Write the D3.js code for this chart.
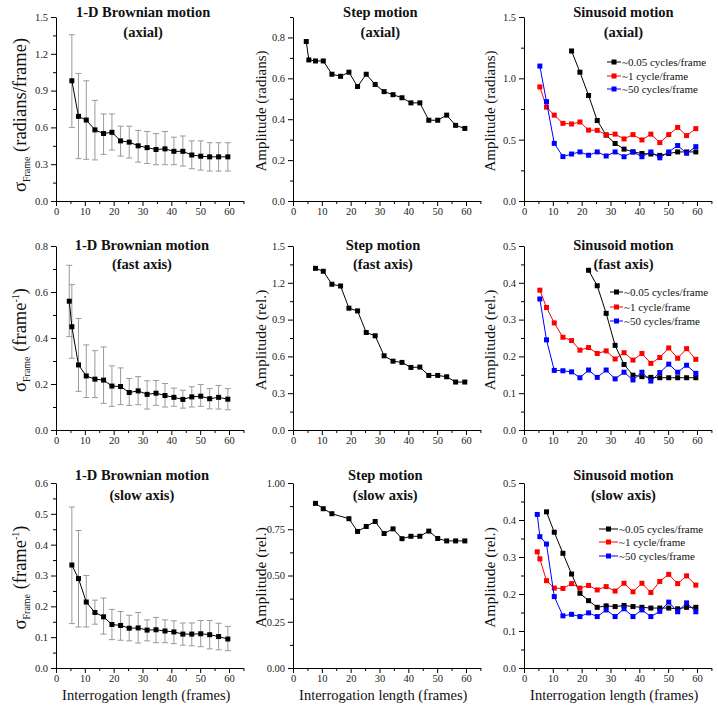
<!DOCTYPE html>
<html><head><meta charset="utf-8">
<script src="https://cdn.jsdelivr.net/npm/d3@7"></script>
<style>
body{margin:0;background:#fff}
svg{display:block}
text{font-family:"Liberation Serif","Times New Roman",serif}
</style>
</head><body>
<svg id="c" width="718" height="710"></svg>
<script>
// ---------- DATA ----------
const xLen = [4.6, 5.5, 7.8, 10.5, 13.5, 16.5, 19.4, 22.4, 25.4, 28.5, 31.6, 34.7, 37.8, 40.9, 44.0, 47.1, 50.2, 53.3, 56.4, 59.6];
const xMajorTicks = [0, 10, 20, 30, 40, 50, 60];
const legendLabels = ["~0.05 cycles/frame", "~1 cycle/frame", "~50 cycles/frame"];

// Brownian (axial)
const brownAxialMean = [null, 0.98, 0.69, 0.66, 0.58, 0.55, 0.56, 0.49, 0.48, 0.45, 0.435, 0.42, 0.425, 0.405, 0.405, 0.375, 0.365, 0.36, 0.36, 0.36];
const brownAxialHi   = [null, 1.355, 1.04, 0.98, 0.82, 0.71, 0.71, 0.61, 0.61, 0.575, 0.567, 0.55, 0.567, 0.52, 0.53, 0.49, 0.49, 0.475, 0.475, 0.475];
const brownAxialLo   = [null, 0.60, 0.345, 0.34, 0.335, 0.38, 0.415, 0.366, 0.35, 0.317, 0.306, 0.296, 0.296, 0.296, 0.285, 0.263, 0.252, 0.244, 0.244, 0.244];
// Brownian (fast axis)
const brownFastMean = [0.56, 0.449, 0.283, 0.235, 0.221, 0.217, 0.191, 0.189, 0.163, 0.17, 0.155, 0.16, 0.15, 0.142, 0.133, 0.144, 0.147, 0.136, 0.142, 0.134];
const brownFastHi   = [0.716, 0.632, 0.485, 0.37, 0.345, 0.361, 0.279, 0.27, 0.224, 0.232, 0.214, 0.215, 0.202, 0.182, 0.173, 0.188, 0.198, 0.18, 0.194, 0.18];
const brownFastLo   = [0.406, 0.312, 0.168, 0.141, 0.141, 0.116, 0.103, 0.11, 0.107, 0.11, 0.091, 0.107, 0.10, 0.103, 0.095, 0.10, 0.103, 0.092, 0.091, 0.088];
// Brownian (slow axis)
const brownSlowMean = [null, 0.334, 0.29, 0.214, 0.18, 0.166, 0.141, 0.138, 0.129, 0.13, 0.123, 0.124, 0.12, 0.117, 0.11, 0.11, 0.111, 0.108, 0.102, 0.094];
const brownSlowHi   = [null, 0.522, 0.446, 0.30, 0.22, 0.227, 0.19, 0.183, 0.171, 0.18, 0.156, 0.164, 0.156, 0.153, 0.146, 0.146, 0.154, 0.154, 0.145, 0.135];
const brownSlowLo   = [null, 0.144, 0.133, 0.133, 0.142, 0.11, 0.092, 0.09, 0.088, 0.081, 0.088, 0.082, 0.082, 0.079, 0.074, 0.072, 0.069, 0.062, 0.059, 0.056];

// Step motion
const stepAxial = [0.78, 0.69, 0.685, 0.685, 0.62, 0.61, 0.63, 0.56, 0.62, 0.57, 0.535, 0.52, 0.505, 0.48, 0.48, 0.395, 0.395, 0.42, 0.37, 0.355];
const stepFast  = [null, null, 1.318, 1.294, 1.188, 1.174, 0.993, 0.971, 0.795, 0.768, 0.605, 0.561, 0.551, 0.51, 0.513, 0.445, 0.445, 0.434, 0.391, 0.391];
const stepSlow  = [null, null, 0.89, 0.861, 0.834, null, 0.807, 0.738, 0.765, 0.792, 0.727, 0.752, 0.699, 0.712, 0.712, 0.74, 0.70, 0.687, 0.687, 0.687];

// Sinusoid (axial)
const sinAxial005 = [null, null, null, null, null, 1.223, 1.05, 0.86, 0.656, 0.537, 0.469, 0.423, 0.40, 0.387, 0.383, 0.372, 0.387, 0.40, 0.40, 0.40];
const sinAxial1   = [null, 0.93, 0.765, 0.70, 0.633, 0.628, 0.644, 0.578, 0.576, 0.54, 0.545, 0.506, 0.541, 0.498, 0.545, 0.476, 0.541, 0.60, 0.533, 0.59];
const sinAxial50  = [null, 1.10, 0.81, 0.47, 0.362, 0.383, 0.40, 0.373, 0.40, 0.367, 0.40, 0.361, 0.40, 0.361, 0.40, 0.352, 0.40, 0.452, 0.389, 0.443];
// Sinusoid (fast axis)
const sinFast005 = [null, null, null, null, null, null, null, 0.434, 0.392, 0.317, 0.23, 0.178, 0.149, 0.145, 0.143, 0.142, 0.142, 0.142, 0.142, 0.142];
const sinFast1   = [null, 0.38, 0.333, 0.291, 0.252, 0.243, 0.217, 0.224, 0.208, 0.215, 0.193, 0.21, 0.19, 0.208, 0.181, 0.197, 0.223, 0.195, 0.221, 0.192];
const sinFast50  = [null, 0.356, 0.245, 0.162, 0.161, 0.158, 0.142, 0.163, 0.143, 0.163, 0.139, 0.157, 0.136, 0.157, 0.133, 0.156, 0.179, 0.157, 0.176, 0.154];
// Sinusoid (slow axis)
const sinSlow005 = [null, null, 0.422, 0.367, 0.31, 0.254, 0.202, 0.182, 0.164, 0.168, 0.166, 0.169, 0.166, 0.164, 0.162, 0.162, 0.162, 0.16, 0.164, 0.164];
const sinSlow1   = [0.314, 0.295, 0.236, 0.216, 0.215, 0.228, 0.216, 0.223, 0.211, 0.22, 0.208, 0.229, 0.206, 0.229, 0.204, 0.234, 0.253, 0.228, 0.249, 0.224];
const sinSlow50  = [0.415, 0.355, 0.335, 0.193, 0.141, 0.145, 0.139, 0.149, 0.139, 0.157, 0.139, 0.16, 0.139, 0.157, 0.139, 0.153, 0.178, 0.152, 0.176, 0.152];

// ---------- LAYOUT ----------
const svg = d3.select("#c");
const colX0 = [56, 293, 524];
const XU = 2.883;                // px per frame
const rowsY = [{top:17,bottom:201,t:[12,32]},{top:246,bottom:430,t:[245,264]},{top:483,bottom:668,t:[475,495]}];
const colors = ["#000000", "#ff0000", "#0000ff"];
const SERIF = "Liberation Serif";

const panels = [
  {col:0,row:0,yMax:1.5,step:0.3,fmt:".1f",title:["1-D Brownian motion","(axial)"],tx:30.2,lab:"sigRad",ly:115,
   series:[{v:brownAxialMean,c:"#000"}],err:{hi:brownAxialHi,lo:brownAxialLo}},
  {col:1,row:0,yMax:0.9,step:0.2,fmt:".1f",title:["Step motion","(axial)"],tx:30.3,lab:"ampRad",
   series:[{v:stepAxial,c:"#000"}]},
  {col:2,row:0,yMax:1.5,step:0.5,fmt:".1f",title:["Sinusoid motion","(axial)"],tx:34.5,lab:"ampRad",
   series:[{v:sinAxial005,c:colors[0]},{v:sinAxial1,c:colors[1]},{v:sinAxial50,c:colors[2]}],
   legend:{x1:83,x2:97,tx:98,y:[45,59,72]}},
  {col:0,row:1,yMax:0.8,step:0.2,fmt:".1f",title:["1-D Brownian motion","(fast axis)"],tx:29.8,lab:"sigInv",
   series:[{v:brownFastMean,c:"#000"}],err:{hi:brownFastHi,lo:brownFastLo}},
  {col:1,row:1,yMax:1.5,step:0.3,fmt:".1f",title:["Step motion","(fast axis)"],tx:31.2,lab:"ampRel",
   series:[{v:stepFast,c:"#000"}]},
  {col:2,row:1,yMax:0.5,step:0.1,fmt:".1f",title:["Sinusoid motion","(fast axis)"],tx:34.5,lab:"ampRel",
   series:[{v:sinFast005,c:colors[0]},{v:sinFast1,c:colors[1]},{v:sinFast50,c:colors[2]}],
   legend:{x1:86,x2:99,tx:100,y:[46,61,75]}},
  {col:0,row:2,yMax:0.6,step:0.1,fmt:".1f",title:["1-D Brownian motion","(slow axis)"],tx:29.8,lab:"sigInv",
   series:[{v:brownSlowMean,c:"#000"}],err:{hi:brownSlowHi,lo:brownSlowLo},xt:true},
  {col:1,row:2,yMax:1.0,step:0.25,fmt:".2f",title:["Step motion","(slow axis)"],tx:32,lab:"ampRel",
   series:[{v:stepSlow,c:"#000"}],xt:true},
  {col:2,row:2,yMax:0.5,step:0.1,fmt:".1f",title:["Sinusoid motion","(slow axis)"],tx:34.5,lab:"ampRel",
   series:[{v:sinSlow005,c:colors[0]},{v:sinSlow1,c:colors[1]},{v:sinSlow50,c:colors[2]}],
   legend:{x1:75,x2:94,tx:95,y:[46,59,73]},xt:true}
];

function drawPanel(p){
  const x0 = colX0[p.col], R = rowsY[p.row];
  const x = d3.scaleLinear().domain([0,65]).range([x0, x0+65*XU]);
  const y = d3.scaleLinear().domain([0,p.yMax]).range([R.bottom, R.top]);
  const g = svg.append("g");

  const major = d3.range(0, p.yMax + 1e-9, p.step);
  const minor = d3.range(p.step/2, p.yMax + 1e-9, p.step);

  // minor ticks
  const gmx = g.append("g").attr("transform",`translate(0,${R.bottom})`)
    .call(d3.axisBottom(x).tickValues(d3.range(5,66,10)).tickSize(3).tickFormat(""));
  gmx.select(".domain").remove();
  const gmy = g.append("g").attr("transform",`translate(${x0},0)`)
    .call(d3.axisLeft(y).tickValues(minor).tickSize(3).tickFormat(""));
  gmy.select(".domain").remove();

  const gx = g.append("g").attr("transform",`translate(0,${R.bottom})`)
    .call(d3.axisBottom(x).tickValues(xMajorTicks).tickSize(5).tickPadding(2).tickSizeOuter(0));
  const gy = g.append("g").attr("transform",`translate(${x0},0)`)
    .call(d3.axisLeft(y).tickValues(major).tickSize(5).tickPadding(3).tickSizeOuter(0).tickFormat(d3.format(p.fmt)));
  [gx,gy,gmx,gmy].forEach(a=>{
    a.attr("font-family",SERIF);
    a.selectAll("line").attr("stroke","#000");
    a.select(".domain").attr("stroke","#000");
    a.selectAll("text").attr("font-size",10.5).attr("fill","#222");
  });

  // error bars
  if(p.err){
    const eb = xLen.map((xv,i)=>({x:xv,hi:p.err.hi[i],lo:p.err.lo[i]})).filter(d=>d.hi!=null);
    const ge = g.append("g").attr("stroke","#9a9a9a").attr("stroke-width",1).attr("fill","none");
    ge.selectAll("line.v").data(eb).enter().append("line")
      .attr("x1",d=>x(d.x)).attr("x2",d=>x(d.x)).attr("y1",d=>y(d.hi)).attr("y2",d=>y(d.lo));
    ge.selectAll("line.h").data(eb).enter().append("line")
      .attr("x1",d=>x(d.x)-3).attr("x2",d=>x(d.x)+3).attr("y1",d=>y(d.hi)).attr("y2",d=>y(d.hi));
    ge.selectAll("line.l").data(eb).enter().append("line")
      .attr("x1",d=>x(d.x)-3).attr("x2",d=>x(d.x)+3).attr("y1",d=>y(d.lo)).attr("y2",d=>y(d.lo));
  }

  // series
  const line = d3.line().x(d=>x(d.x)).y(d=>y(d.y));
  p.series.forEach(s=>{
    const pts = xLen.map((xv,i)=>({x:xv,y:s.v[i]})).filter(d=>d.y!=null);
    g.append("path").datum(pts).attr("d",line).attr("fill","none").attr("stroke",s.c).attr("stroke-width",1);
    g.append("g").selectAll("rect").data(pts).enter().append("rect")
      .attr("x",d=>x(d.x)-2.5).attr("y",d=>y(d.y)-2.5).attr("width",5).attr("height",5).attr("fill",s.c);
  });

  // titles
  p.title.forEach((t,i)=>{
    g.append("text").attr("x",x(p.tx)).attr("y",R.t[i]).attr("dy","0.35em")
      .attr("text-anchor","middle").attr("font-weight","bold").attr("font-size",14.5).attr("fill","#111")
      .text(t);
  });

  // y label
  const lx = [20, 261, 490][p.col];
  const ly = p.ly || (R.top+R.bottom)/2 + 2;
  const yl = g.append("text").attr("transform",`translate(${lx},${ly}) rotate(-90)`)
    .attr("text-anchor","middle").attr("dy","0.35em").attr("fill","#111");
  if(p.lab==="sigRad"){
    yl.attr("font-size",18.5);
    yl.append("tspan").text("σ");
    yl.append("tspan").attr("font-size",10).attr("dy",4).text("Frame");
    yl.append("tspan").attr("dy",-4).text(" (radians/frame)");
  } else if(p.lab==="sigInv"){
    yl.attr("font-size",18.5);
    yl.append("tspan").text("σ");
    yl.append("tspan").attr("font-size",10).attr("dy",4).text("Frame");
    yl.append("tspan").attr("dy",-4).text(" (frame");
    yl.append("tspan").attr("font-size",10).attr("dy",-7).text("-1");
    yl.append("tspan").attr("dy",7).text(")");
  } else if(p.lab==="ampRad"){
    yl.attr("font-size",15).text("Amplitude (radians)");
  } else {
    yl.attr("font-size",15.5).text("Amplitude (rel.)");
  }

  // x label
  if(p.xt){
    g.append("text").attr("x",x(31.3)).attr("y",695).attr("dy","0.35em").attr("text-anchor","middle")
      .attr("font-size",14.5).attr("fill","#111").text("Interrogation length (frames)");
  }

  // legend
  if(p.legend){
    const L = p.legend;
    p.series.forEach((s,i)=>{
      const yy = R.top + L.y[i];
      g.append("line").attr("x1",x0+L.x1).attr("x2",x0+L.x2).attr("y1",yy).attr("y2",yy).attr("stroke",s.c).attr("stroke-width",1);
      g.append("rect").attr("x",x0+(L.x1+L.x2)/2-2.5).attr("y",yy-2.5).attr("width",5).attr("height",5).attr("fill",s.c);
      g.append("text").attr("x",x0+L.tx).attr("y",yy).attr("dy","0.35em").attr("font-size",11).attr("fill","#111")
        .text(legendLabels[i]);
    });
  }
}
panels.forEach(drawPanel);
</script>
</body></html>
